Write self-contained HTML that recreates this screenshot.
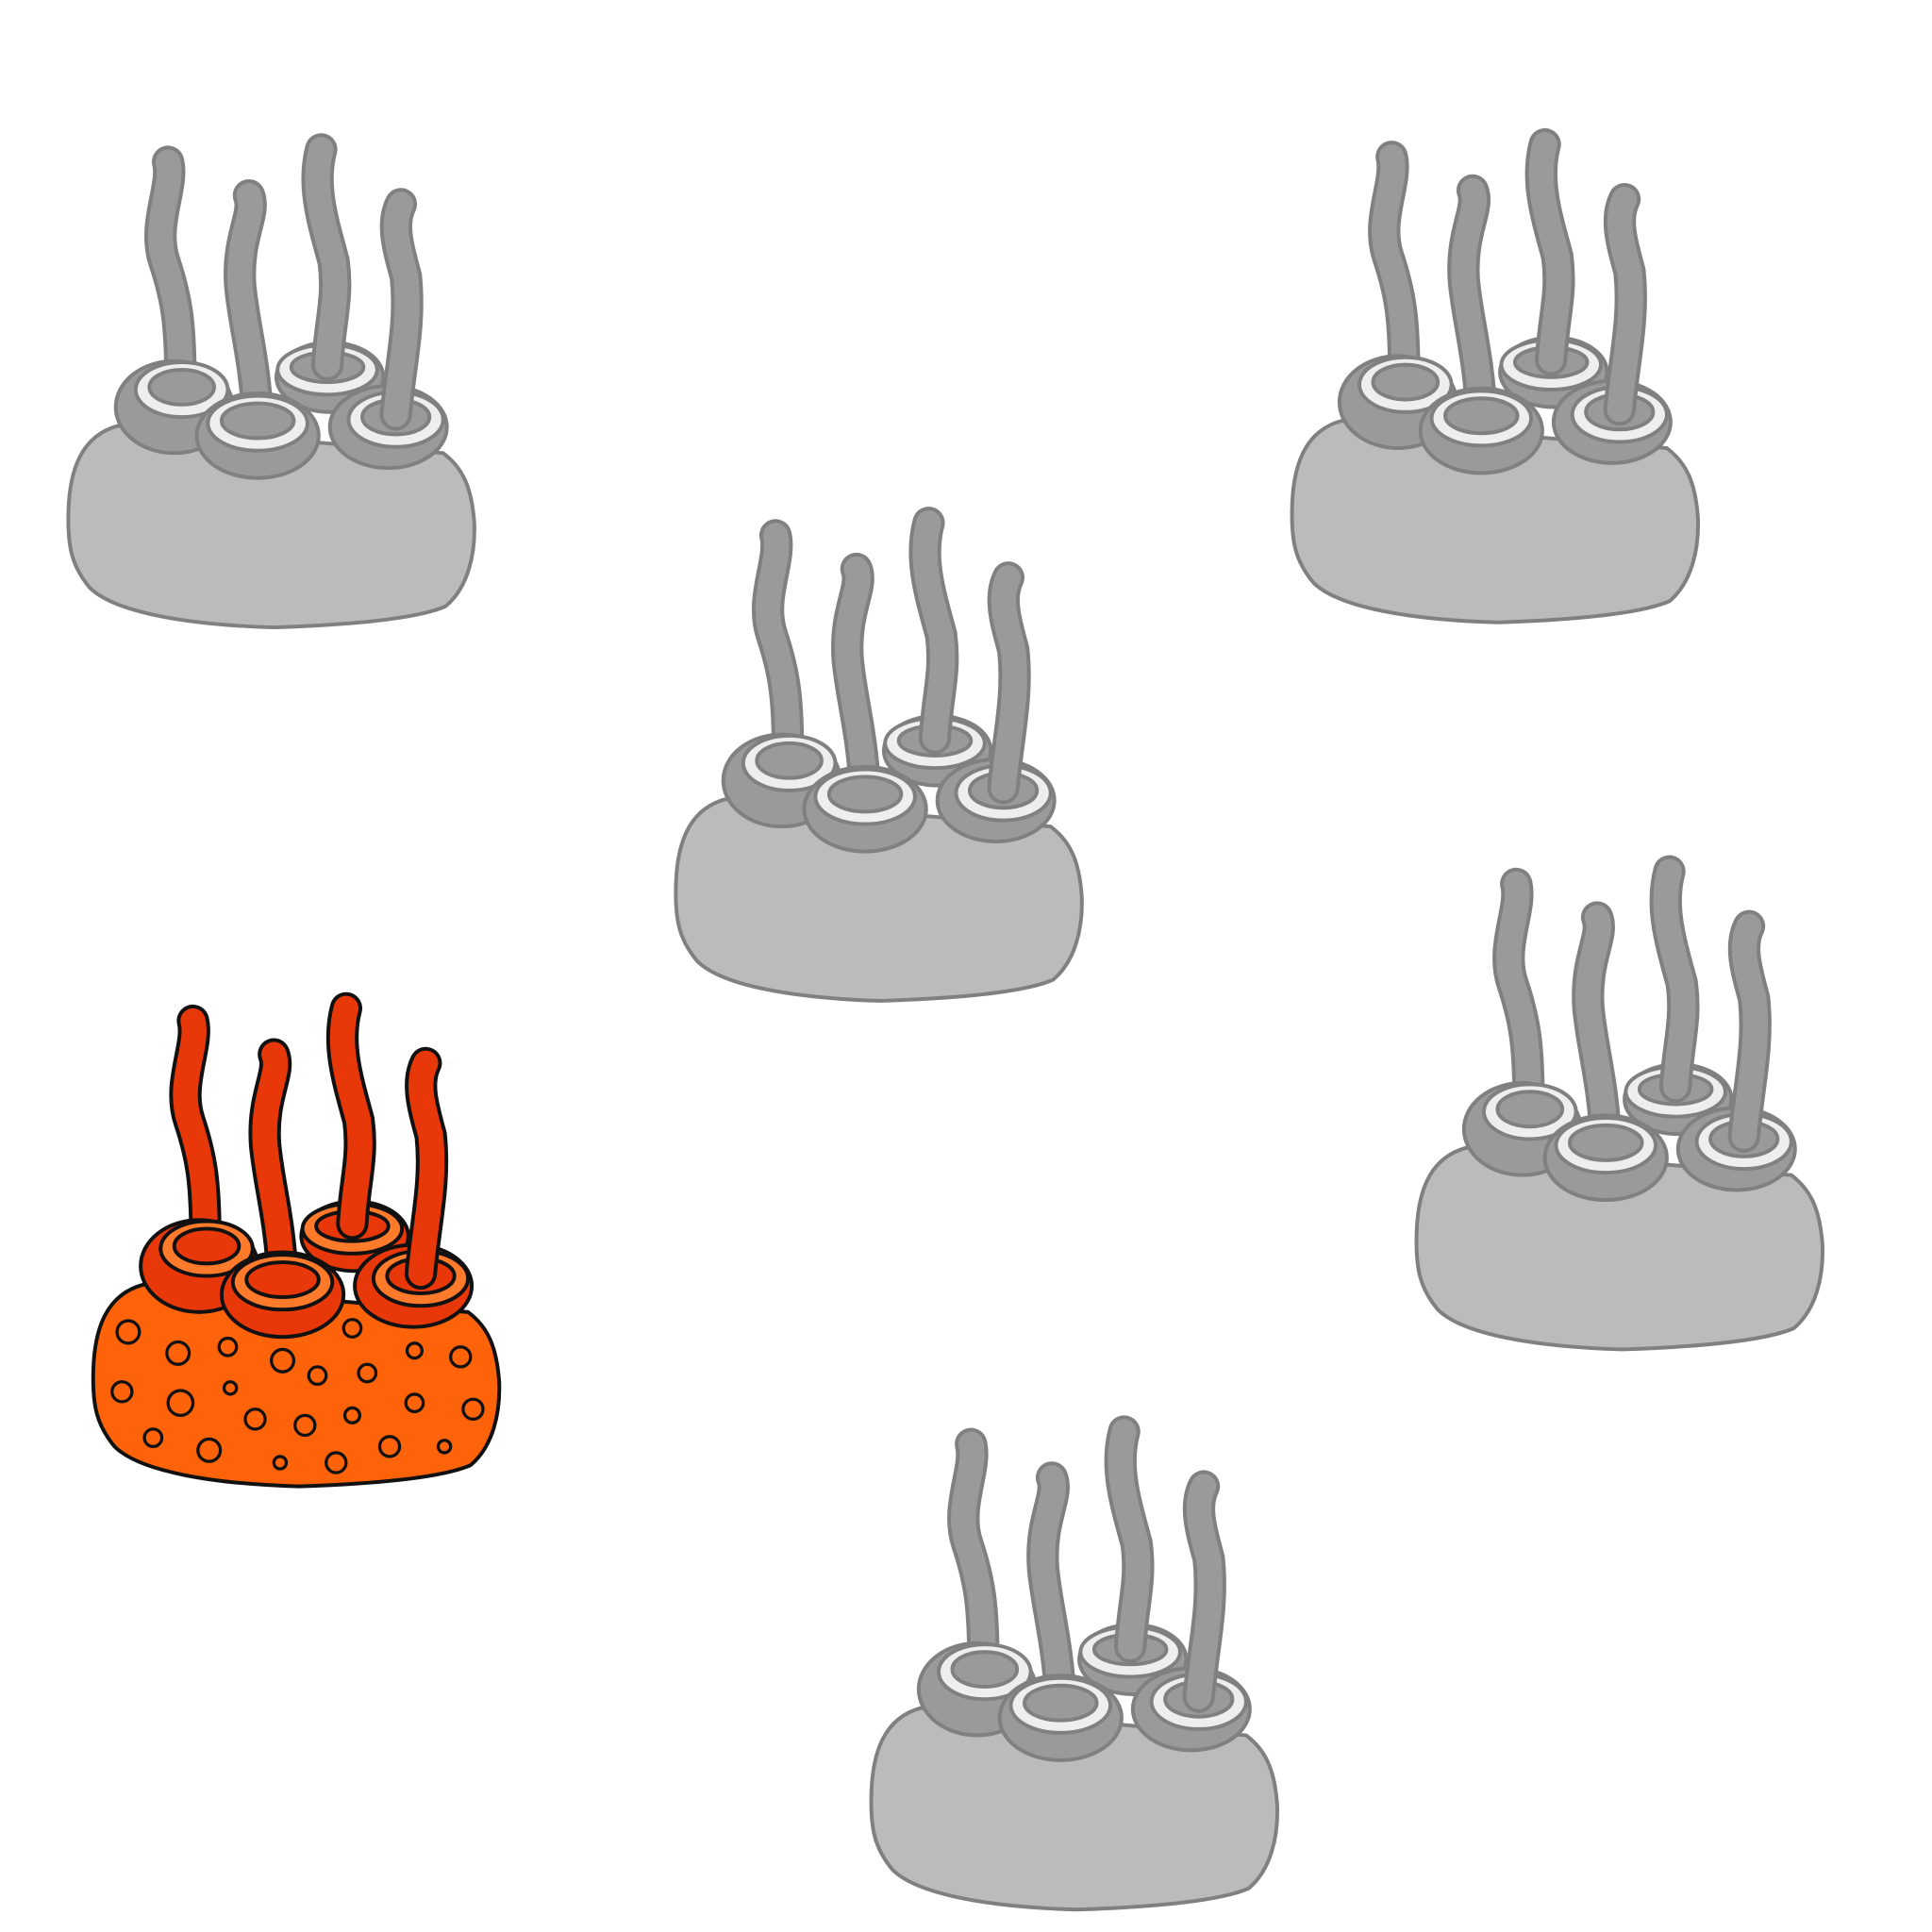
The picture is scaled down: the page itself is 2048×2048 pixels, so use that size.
<!DOCTYPE html>
<html><head><meta charset="utf-8"><style>
html,body{margin:0;padding:0;background:#fff;}
svg{display:block;}
</style></head><body>
<svg id="art" width="2048" height="2048" viewBox="0 0 1552 1552" xmlns="http://www.w3.org/2000/svg"></svg>
<script>
const NS="http://www.w3.org/2000/svg";
const svg=document.getElementById('art');
const offsets=[[0,0],[983,-4],[488,300],[1083,580],[645,1030],[20,690]];
const highlighted=[false,false,false,false,false,true];
const dots=[[103,1070,9],[143,1087,9],[183,1082,7],[227,1093,9],[283,1067,7],[333,1085,6],[370,1090,8],[98,1118,8],[145,1127,10],[185,1115,5],[255,1105,7],[295,1103,7],[205,1140,8],[245,1145,8],[283,1137,6],[333,1127,7],[380,1132,8],[123,1155,7],[168,1165,9],[225,1175,5],[270,1175,8],[313,1162,8],[357,1162,5]];
function el(tag,attrs,parent){const e=document.createElementNS(NS,tag);for(const k in attrs)e.setAttribute(k,attrs[k]);parent.appendChild(e);return e;}
const bodyD="M95,342 C65,350 56,378 55,410 C54,440 58,455 72,472 C92,492 150,502 220,504 C280,502 335,497 358,487 C376,472 382,445 381,420 C379,392 372,376 356,364 Z";
const knobs=[
 {cx:265,cy:303,rx:43,ry:28,wx:263,wy:297,wrx:40,wry:20},
 {cx:140,cy:327,rx:47,ry:37,wx:146,wy:313,wrx:37,wry:22},
 {cx:312,cy:343,rx:47,ry:33,wx:318,wy:337,wrx:38,wry:22},
 {cx:207,cy:350,rx:49,ry:34,wx:207,wy:340,wrx:40,wry:22}
];
const tents=[
 "M145,308 C145,260 142,240 132,210 C122,180 140,150 135,130",
 "M207,338 C205,290 196,262 193,230 C190,190 206,172 200,157",
 "M263,293 C265,258 272,240 268,210 C260,180 250,150 258,120",
 "M318,333 C322,290 330,260 326,222 C320,200 314,180 322,164"
];
offsets.forEach((o,i)=>{
 const hi=highlighted[i];
 const c=hi?{body:"#FF6309",line:"#111",knob:"#E8380A",ring:"#FF7A2A",inner:"#E8380A",tent:"#E8380A"}
          :{body:"#BBBBBB",line:"#808080",knob:"#9A9A9A",ring:"#EEEEEE",inner:"#9A9A9A",tent:"#9A9A9A"};
 const g=el('g',{transform:`translate(${o[0]},${o[1]})`},svg);
 
 
 const b=el('path',{d:bodyD,fill:c.body,stroke:c.line,'stroke-width':3},g);
 
 
 if(hi){dots.forEach(d=>{const ci=el('circle',{cx:d[0]-o[0],cy:d[1]-o[1],r:d[2],fill:"#FF6309",stroke:"#111",'stroke-width':2.5},g);
  
  });}
 knobs.forEach((k,j)=>{
  const kg=el('g',{},g);
  
  
  el('ellipse',{cx:k.cx,cy:k.cy,rx:k.rx,ry:k.ry,fill:c.knob,stroke:c.line,'stroke-width':3},kg);
  el('ellipse',{cx:k.wx,cy:k.wy,rx:k.wrx,ry:k.wry,fill:c.ring,stroke:c.line,'stroke-width':3},kg);
  el('ellipse',{cx:k.wx,cy:k.wy-2,rx:k.wrx-11,ry:k.wry-8,fill:c.inner,stroke:c.line,'stroke-width':3},kg);
  el('path',{d:tents[j],fill:"none",stroke:c.line,'stroke-width':26,'stroke-linecap':'round'},kg);
  const t=el('path',{d:tents[j],fill:"none",stroke:c.tent,'stroke-width':20,'stroke-linecap':'round'},kg);
  
  
 });
});
</script>
</body></html>
